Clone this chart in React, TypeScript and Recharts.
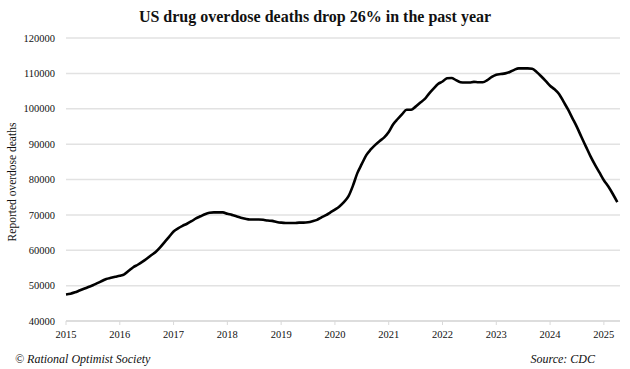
import React from 'react';
import { LineChart, Line, XAxis, YAxis, CartesianGrid } from 'recharts';

// 12-month ending provisional counts, Jan 2015 .. Apr 2025 (one per month)
const deaths2015 = [47500, 47700, 48100, 48600, 49100, 49600, 50100, 50700, 51300, 51900, 52200, 52500];
const deaths2016 = [52800, 53200, 54200, 55200, 55900, 56700, 57600, 58600, 59500, 60800, 62300, 63800];
const deaths2017 = [65300, 66200, 66900, 67500, 68200, 69000, 69600, 70200, 70600, 70700, 70700, 70700];
const deaths2018 = [70300, 70000, 69600, 69200, 68900, 68700, 68700, 68700, 68600, 68400, 68300, 68000];
const deaths2019 = [67800, 67700, 67700, 67700, 67800, 67800, 67900, 68200, 68600, 69300, 69900, 70700];
const deaths2020 = [71500, 72400, 73600, 75200, 78200, 81800, 84400, 86900, 88500, 89800, 90900, 91900];
const deaths2021 = [93400, 95600, 97100, 98500, 99700, 99700, 100600, 101700, 102700, 104300, 105700, 107000];
const deaths2022 = [107700, 108600, 108700, 108100, 107500, 107400, 107400, 107600, 107500, 107500, 108100, 109000];
const deaths2023 = [109600, 109800, 110000, 110400, 111000, 111400, 111400, 111400, 111300, 110400, 109200, 107900];
const deaths2024 = [106500, 105500, 104200, 102000, 99800, 97300, 94800, 92000, 89300, 86600, 84200, 82000];
const deaths2025 = [79800, 78000, 75900, 73600];

const yearLabels = ['2015', '2016', '2017', '2018', '2019', '2020', '2021', '2022', '2023', '2024', '2025'];
const yTicks = [40000, 50000, 60000, 70000, 80000, 90000, 100000, 110000, 120000];

const allDeaths = [
  ...deaths2015, ...deaths2016, ...deaths2017, ...deaths2018, ...deaths2019, ...deaths2020,
  ...deaths2021, ...deaths2022, ...deaths2023, ...deaths2024, ...deaths2025,
];
const data = allDeaths.map((deaths, m) => ({ m, deaths }));
const xTicks = yearLabels.map((_, i) => i * 12);

const serif = '"Liberation Serif", "Times New Roman", serif';

export default function App() {
  return (
    <div style={{ position: 'relative', width: 630, height: 369, background: '#fff', fontFamily: serif }}>
      <style>{'body{margin:0} .recharts-text{font-family:"Liberation Serif", serif}'}</style>
      <div
        style={{
          position: 'absolute', top: 6, left: 0, width: 630, textAlign: 'center',
          fontSize: 16, fontWeight: 'bold', color: '#111', lineHeight: '22px',
        }}
      >
        US drug overdose deaths drop 26% in the past year
      </div>
      <div
        style={{
          position: 'absolute', left: 12, top: 182, fontSize: 11.5, color: '#111', whiteSpace: 'nowrap',
          transform: 'translate(-50%, -50%) rotate(-90deg)',
        }}
      >
        Reported overdose deaths
      </div>
      <LineChart
        width={630}
        height={369}
        data={data}
        margin={{ top: 38, right: 10, bottom: 18, left: 0 }}
        style={{ fontFamily: serif }}
      >
        <CartesianGrid horizontal vertical={false} stroke="#e2e2e2" strokeWidth={1.5} />
        <XAxis
          type="number"
          dataKey="m"
          domain={[0, 123.6]}
          ticks={xTicks}
          tickFormatter={(v: number) => yearLabels[Math.round(v / 12)]}
          axisLine={{ stroke: '#d9d9d9', strokeWidth: 1.5 }}
          tickLine={{ stroke: '#d9d9d9' }}
          tickSize={4}
          tickMargin={6}
          height={30}
          tick={{ fill: '#111', fontSize: 10.5, fontFamily: serif }}
          interval={0}
        />
        <YAxis
          type="number"
          domain={[40000, 120000]}
          ticks={yTicks}
          width={66}
          axisLine={false}
          tickLine={false}
          tickMargin={5}
          tick={{ fill: '#111', fontSize: 10.5, fontFamily: serif }}
          interval={0}
        />
        <Line
          type="monotone"
          dataKey="deaths"
          stroke="#000"
          strokeWidth={2.6}
          dot={false}
          isAnimationActive={false}
        />
      </LineChart>
      <div style={{ position: 'absolute', left: 15, top: 352, fontSize: 12, fontStyle: 'italic', color: '#111' }}>
        © Rational Optimist Society
      </div>
      <div style={{ position: 'absolute', right: 35, top: 352, fontSize: 12, fontStyle: 'italic', color: '#111' }}>
        Source: CDC
      </div>
    </div>
  );
}
